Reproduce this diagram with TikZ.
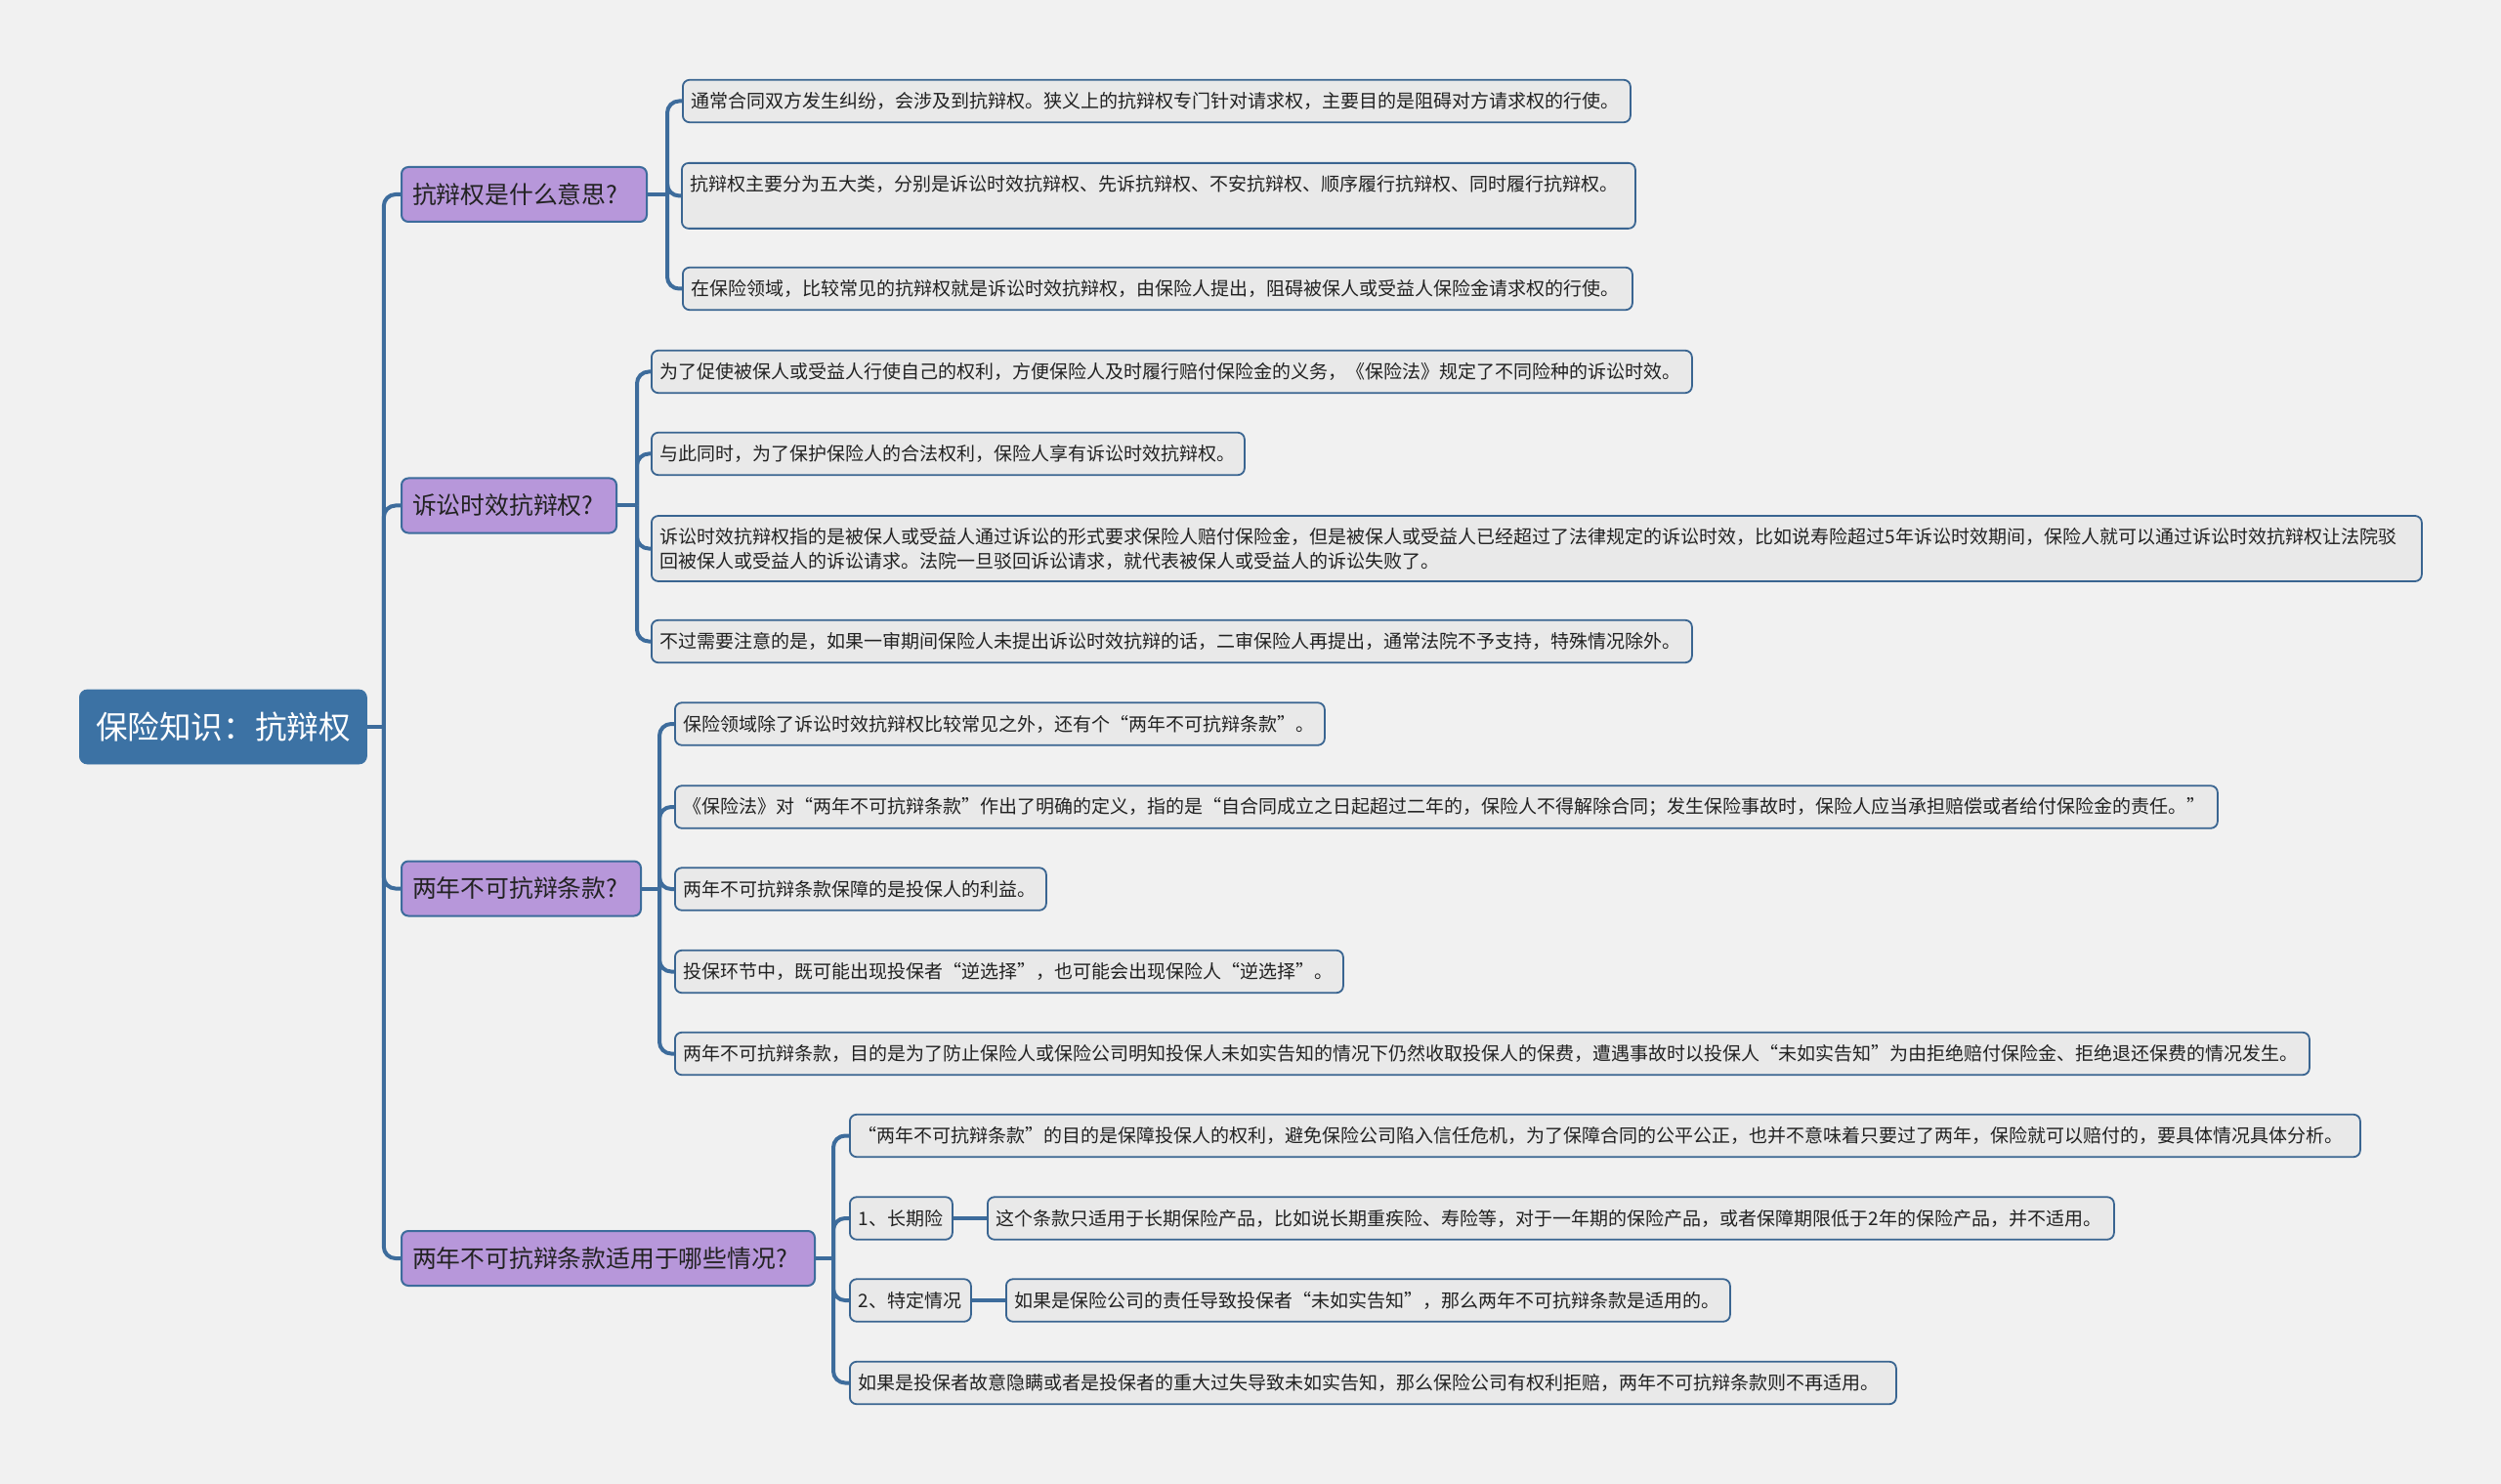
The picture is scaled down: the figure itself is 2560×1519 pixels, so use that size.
\documentclass[tikz,border=0pt]{standalone}
\usepackage{fontspec}
\setmainfont{Noto Sans CJK SC}
\usepackage{xcolor}
\usetikzlibrary{positioning}
\definecolor{mapbg}{HTML}{F1F1F1}
\definecolor{rootblue}{HTML}{3C72A4}
\definecolor{linkblue}{HTML}{3D6C9C}
\definecolor{topicfill}{HTML}{B797DA}
\definecolor{leaffill}{HTML}{E9E9E9}
\definecolor{leafline}{HTML}{3A6591}
\definecolor{inkdark}{HTML}{222222}

\begin{document}
\begin{tikzpicture}[x=0.5pt,y=-0.5pt,
  root/.style={fill=rootblue,draw=rootblue,rounded corners=4pt,text=white,
               minimum width=147pt,minimum height=38pt,inner sep=0pt,
               font=\fontsize{16.3pt}{18pt}\selectfont},
  topic/.style={draw=linkblue,fill=topicfill,rounded corners=3.5pt,line width=1pt,
                anchor=west,align=left,inner xsep=5.5pt,minimum height=28pt,text=inkdark,
                font=\fontsize{12.4pt}{14pt}\selectfont},
  leaf/.style={draw=leafline,fill=leaffill,rounded corners=3.5pt,line width=0.9pt,
               anchor=west,align=left,inner xsep=4.5pt,inner ysep=2pt,minimum height=21.75pt,
               text=inkdark,font=\fontsize{9.5pt}{12.5pt}\selectfont},
  link/.style={draw=linkblue,line width=2pt,rounded corners=6pt}]
\fill[mapbg] (0,0) rectangle (2560,1519);

% root and main topics
\node[root,anchor=west] (rt) at (81,744) {保险知识：抗辩权};
\node[topic,text width=114.5pt] (q1) at (410,199) {抗辩权是什么意思?};
\node[topic,text width=99pt] (q2) at (410,517.5) {诉讼时效抗辩权?};
\node[topic,text width=111.5pt] (q3) at (410,909.5) {两年不可抗辩条款?};
\node[topic,text width=200.5pt] (q4) at (410,1288) {两年不可抗辩条款适用于哪些情况?};

% first topic
\node[leaf,text width=476pt] (a1) at (698,103.5) {通常合同双方发生纠纷，会涉及到抗辩权。狭义上的抗辩权专门针对请求权，主要目的是阻碍对方请求权的行使。};
\node[leaf,anchor=north west,text width=479pt,text height=12.5pt,text depth=17pt] (a2) at (697,166) {抗辩权主要分为五大类，分别是诉讼时效抗辩权、先诉抗辩权、不安抗辩权、顺序履行抗辩权、同时履行抗辩权。};
\node[leaf,text width=477pt] (a3) at (698,295.5) {在保险领域，比较常见的抗辩权就是诉讼时效抗辩权，由保险人提出，阻碍被保人或受益人保险金请求权的行使。};

% second topic
\node[leaf,text width=523.5pt] (b1) at (666,380.5) {为了促使被保人或受益人行使自己的权利，方便保险人及时履行赔付保险金的义务，《保险法》规定了不同险种的诉讼时效。};
\node[leaf,text width=294.5pt] (b2) at (666,464.5) {与此同时，为了保护保险人的合法权利，保险人享有诉讼时效抗辩权。};
\node[leaf,text width=897pt,minimum height=33.5pt] (b3) at (666,561.5) {诉讼时效抗辩权指的是被保人或受益人通过诉讼的形式要求保险人赔付保险金，但是被保人或受益人已经超过了法律规定的诉讼时效，比如说寿险超过5年诉讼时效期间，保险人就可以通过诉讼时效抗辩权让法院驳\\回被保人或受益人的诉讼请求。法院一旦驳回诉讼请求，就代表被保人或受益人的诉讼失败了。};
\node[leaf,text width=523.5pt] (b4) at (666,656.5) {不过需要注意的是，如果一审期间保险人未提出诉讼时效抗辩的话，二审保险人再提出，通常法院不予支持，特殊情况除外。};

% third topic
\node[leaf,text width=323.5pt] (c1) at (690,741) {保险领域除了诉讼时效抗辩权比较常见之外，还有个“两年不可抗辩条款”。};
\node[leaf,text width=780.5pt] (c2) at (690,826) {《保险法》对“两年不可抗辩条款”作出了明确的定义，指的是“自合同成立之日起超过二年的，保险人不得解除合同；发生保险事故时，保险人应当承担赔偿或者给付保险金的责任。”};
\node[leaf,text width=181pt] (c3) at (690,910) {两年不可抗辩条款保障的是投保人的利益。};
\node[leaf,text width=333pt] (c4) at (690,994.5) {投保环节中，既可能出现投保者“逆选择”，也可能会出现保险人“逆选择”。};
\node[leaf,text width=827.5pt] (c5) at (690,1078.5) {两年不可抗辩条款，目的是为了防止保险人或保险公司明知投保人未如实告知的情况下仍然收取投保人的保费，遭遇事故时以投保人“未如实告知”为由拒绝赔付保险金、拒绝退还保费的情况发生。};

% fourth topic
\node[leaf,text width=764pt] (d1) at (869,1162.5) {“两年不可抗辩条款”的目的是保障投保人的权利，避免保险公司陷入信任危机，为了保障合同的公平公正，也并不意味着只要过了两年，保险就可以赔付的，要具体情况具体分析。};
\node[leaf,text width=43.5pt] (d2) at (869,1247) {1、长期险};
\node[leaf,text width=567.5pt] (d2a) at (1010,1247) {这个条款只适用于长期保险产品，比如说长期重疾险、寿险等，对于一年期的保险产品，或者保障期限低于2年的保险产品，并不适用。};
\node[leaf,text width=53pt] (d3) at (869,1331) {2、特定情况};
\node[leaf,text width=361.5pt] (d3a) at (1029,1331) {如果是保险公司的责任导致投保者“未如实告知”，那么两年不可抗辩条款是适用的。};
\node[leaf,text width=526.5pt] (d4) at (869,1415.5) {如果是投保者故意隐瞒或者是投保者的重大过失导致未如实告知，那么保险公司有权利拒赔，两年不可抗辩条款则不再适用。};

% main trunk
\draw[link] (rt.east) -- ++(17,0) coordinate (m0);
\draw[link] (m0) |- (q1.west);
\draw[link] (m0) |- (q2.west);
\draw[link] (m0) |- (q3.west);
\draw[link] (m0) |- (q4.west);

% branches
\draw[link] (q1.east) -- ++(20,0) coordinate (s1);
\draw[link] (s1) |- (a1.west);
\draw[link] (s1) |- (a2.west);
\draw[link] (s1) |- (a3.west);
\draw[link] (q2.east) -- ++(20,0) coordinate (s2);
\draw[link] (s2) |- (b1.west);
\draw[link] (s2) |- (b2.west);
\draw[link] (s2) |- (b3.west);
\draw[link] (s2) |- (b4.west);
\draw[link] (q3.east) -- ++(18,0) coordinate (s3);
\draw[link] (s3) |- (c1.west);
\draw[link] (s3) |- (c2.west);
\draw[link] (s3) |- (c3.west);
\draw[link] (s3) |- (c4.west);
\draw[link] (s3) |- (c5.west);
\draw[link] (q4.east) -- ++(18,0) coordinate (s4);
\draw[link] (s4) |- (d1.west);
\draw[link] (s4) |- (d2.west);
\draw[link] (s4) |- (d3.west);
\draw[link] (s4) |- (d4.west);
\draw[link] (d2.east) -- (d2a.west);
\draw[link] (d3.east) -- (d3a.west);
\end{tikzpicture}
\end{document}
